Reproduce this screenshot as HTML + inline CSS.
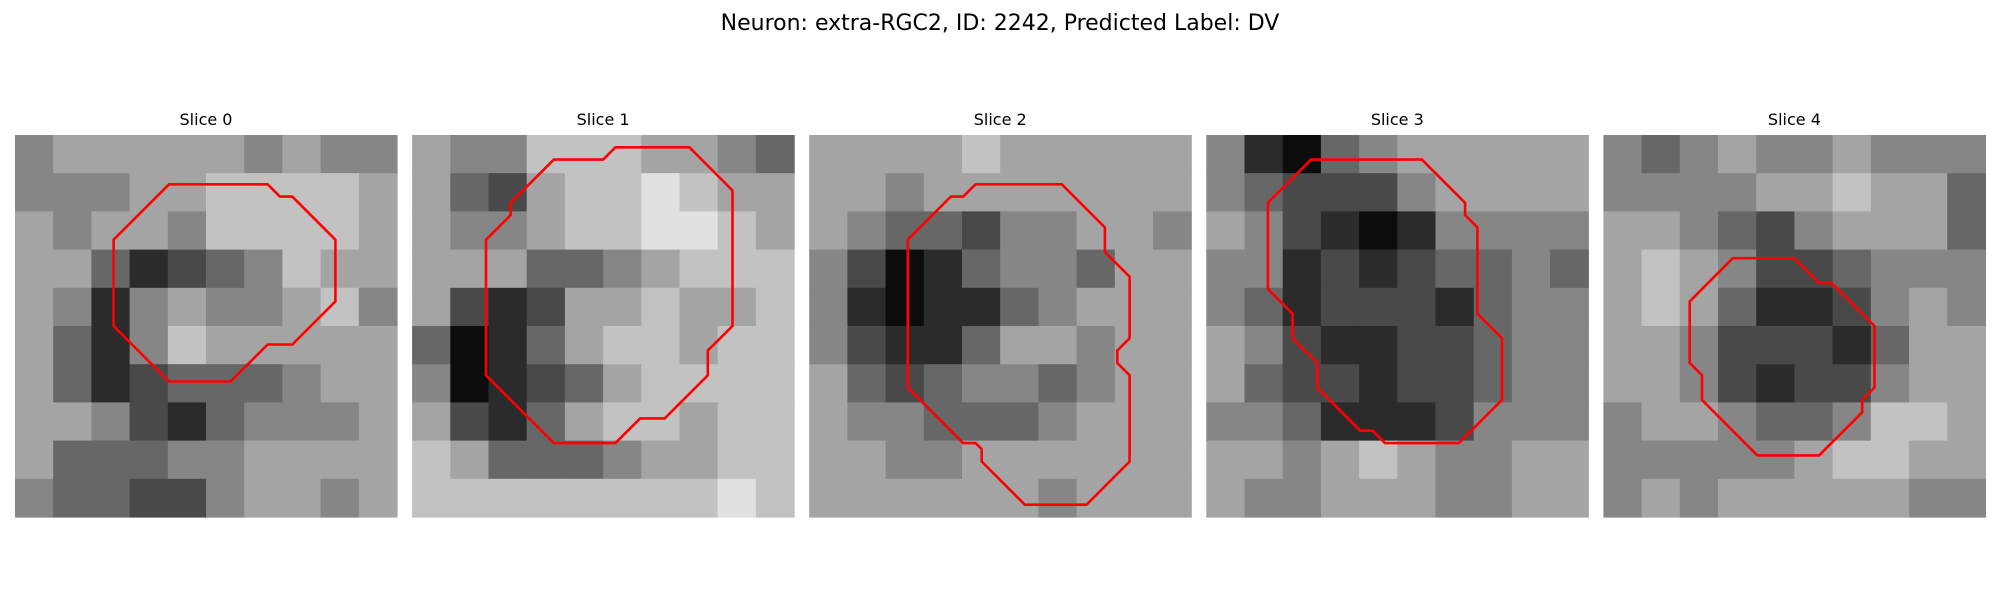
<!DOCTYPE html>
<html><head><meta charset="utf-8"><style>
body{margin:0;background:#fff;width:2000px;height:600px;overflow:hidden;font-family:"Liberation Sans","DejaVu Sans",sans-serif}
</style></head><body>
<svg id="fig" width="2000" height="600" xmlns="http://www.w3.org/2000/svg">
<rect width="2000" height="600" fill="#fff"/>
<text x="1000" y="30" text-anchor="middle" font-family="DejaVu Sans, Liberation Sans, sans-serif" font-size="22" fill="#000">Neuron: extra-RGC2, ID: 2242, Predicted Label: DV</text>
</svg>
<script>
const sliceTitles = ["Slice 0","Slice 1","Slice 2","Slice 3","Slice 4"];
const img0 = [[5,6,6,6,6,6,5,6,5,5],[5,5,5,6,6,7,7,7,7,6],[6,5,6,6,5,7,7,7,7,6],[6,6,4,2,3,4,5,7,6,6],[6,5,2,5,6,5,5,6,7,5],[6,4,2,5,7,6,6,6,6,6],[6,4,2,3,4,4,4,5,6,6],[6,6,5,3,2,4,5,5,5,6],[6,4,4,4,5,5,6,6,6,6],[5,4,4,3,3,5,6,6,5,6]];
const img1 = [[6,5,5,7,7,7,6,6,5,4],[6,4,3,6,7,7,8,7,6,6],[6,5,5,6,7,7,8,8,7,6],[6,6,6,4,4,5,6,7,7,7],[6,3,2,3,6,6,7,6,6,7],[4,1,2,4,6,7,7,6,7,7],[5,1,2,3,4,6,7,7,7,7],[6,3,2,4,6,7,7,6,7,7],[7,6,4,4,4,5,6,6,7,7],[7,7,7,7,7,7,7,7,8,7]];
const img2 = [[6,6,6,6,7,6,6,6,6,6],[6,6,5,6,6,6,6,6,6,6],[6,5,4,4,3,5,5,6,6,5],[5,3,1,2,4,5,5,4,6,6],[5,2,1,2,2,4,5,6,6,6],[5,3,2,2,4,6,6,5,6,6],[6,4,3,4,5,5,4,5,6,6],[6,5,5,4,4,4,5,6,6,6],[6,6,5,5,6,6,6,6,6,6],[6,6,6,6,6,6,5,6,6,6]];
const img3 = [[5,2,1,4,5,6,6,6,6,6],[5,4,3,3,3,5,6,6,6,6],[6,5,3,2,1,2,5,5,5,5],[5,5,2,3,2,3,4,4,5,4],[5,4,2,3,3,3,2,4,5,5],[6,5,3,2,2,3,3,4,5,5],[6,4,3,3,2,3,3,4,5,5],[5,5,4,2,2,2,3,5,5,5],[6,6,5,6,7,6,5,5,6,6],[6,5,5,6,6,6,5,5,6,6]];
const img4 = [[5,4,5,6,5,5,6,5,5,5],[5,5,5,5,6,6,7,6,6,4],[6,6,5,4,3,5,6,6,6,4],[6,7,6,5,3,3,4,5,5,5],[6,7,6,4,2,2,3,5,6,5],[6,6,5,3,3,3,2,4,6,6],[6,6,5,3,2,3,3,5,6,6],[5,6,6,5,4,4,5,7,7,6],[5,5,5,5,5,6,7,7,6,6],[5,6,5,6,6,6,6,6,5,5]];
const contour0 = [[12.5,4],[20.5,4],[21.5,5],[22.5,5],[26,8.5],[26,13.5],[22.5,17],[20.5,17],[17.5,20],[12.5,20],[8,15.5],[8,8.5]];
const contour1 = [[16.5,1],[22.5,1],[26,4.5],[26,15.5],[24,17.5],[24,19.5],[20.5,23],[18.5,23],[16.5,25],[11.5,25],[6,19.5],[6,8.5],[8,6.5],[8,5.5],[11.5,2],[15.5,2]];
const contour2 = [[13.5,4],[20.5,4],[24,7.5],[24,9.5],[26,11.5],[26,16.5],[25,17.5],[25,18.5],[26,19.5],[26,26.5],[22.5,30],[17.5,30],[14,26.5],[14,25.5],[13.5,25],[12.5,25],[8,20.5],[8,8.5],[11.5,5],[12.5,5]];
const contour3 = [[8.5,2],[17.5,2],[21,5.5],[21,6.5],[22,7.5],[22,14.5],[24,16.5],[24,21.5],[20.5,25],[14.5,25],[13.5,24],[12.5,24],[9,20.5],[9,18.5],[7,16.5],[7,14.5],[5,12.5],[5,5.5]];
const contour4 = [[10.5,10],[15.5,10],[17.5,12],[18.5,12],[22,15.5],[22,20.5],[21,21.5],[21,22.5],[17.5,26],[12.5,26],[8,21.5],[8,19.5],[7,18.5],[7,13.5]];
const images=[img0,img1,img2,img3,img4];
const contours=[contour0,contour1,contour2,contour3,contour4];
const NS="http://www.w3.org/2000/svg";
const svg=document.getElementById('fig');
const P0=15, PSTEP=397.1, PTOP=135, PSIZE=382, NCELL=31;
function panelX(i){return P0+i*PSTEP;}
function gray(v){let g=Math.round(255*(v-0.6)/8.4);g=Math.max(0,Math.min(255,g));return `rgb(${g},${g},${g})`;}
images.forEach((img,i)=>{
  const g=document.createElementNS(NS,'g');
  
  
  svg.appendChild(g);
  const t=document.createElementNS(NS,'text');
  
  
  t.setAttribute('x',panelX(i)+PSIZE/2);t.setAttribute('y',125);
  t.setAttribute('text-anchor','middle');t.setAttribute('font-size','16');
  t.setAttribute('font-family','DejaVu Sans, Liberation Sans, sans-serif');
  t.textContent=sliceTitles[i];g.appendChild(t);
  const n=img.length, cs=PSIZE/n;
  img.forEach((row,r)=>row.forEach((v,c)=>{
    const rc=document.createElementNS(NS,'rect');
    
    
    rc.setAttribute('x',panelX(i)+c*cs);rc.setAttribute('y',PTOP+r*cs);
    rc.setAttribute('width',cs+0.6);rc.setAttribute('height',cs+0.6);
    rc.setAttribute('fill',gray(v));g.appendChild(rc);
  }));
  const cell=PSIZE/NCELL;
  const pts=contours[i].map(p=>(panelX(i)+p[0]*cell).toFixed(1)+','+(PTOP+p[1]*cell).toFixed(1)).join(' ');
  const pl=document.createElementNS(NS,'polygon');
  
  
  pl.setAttribute('points',pts);pl.setAttribute('fill','none');
  pl.setAttribute('stroke','#ff0000');pl.setAttribute('stroke-width','2.6');
  pl.setAttribute('stroke-linejoin','round');
  g.appendChild(pl);
});
</script>
</body></html>
